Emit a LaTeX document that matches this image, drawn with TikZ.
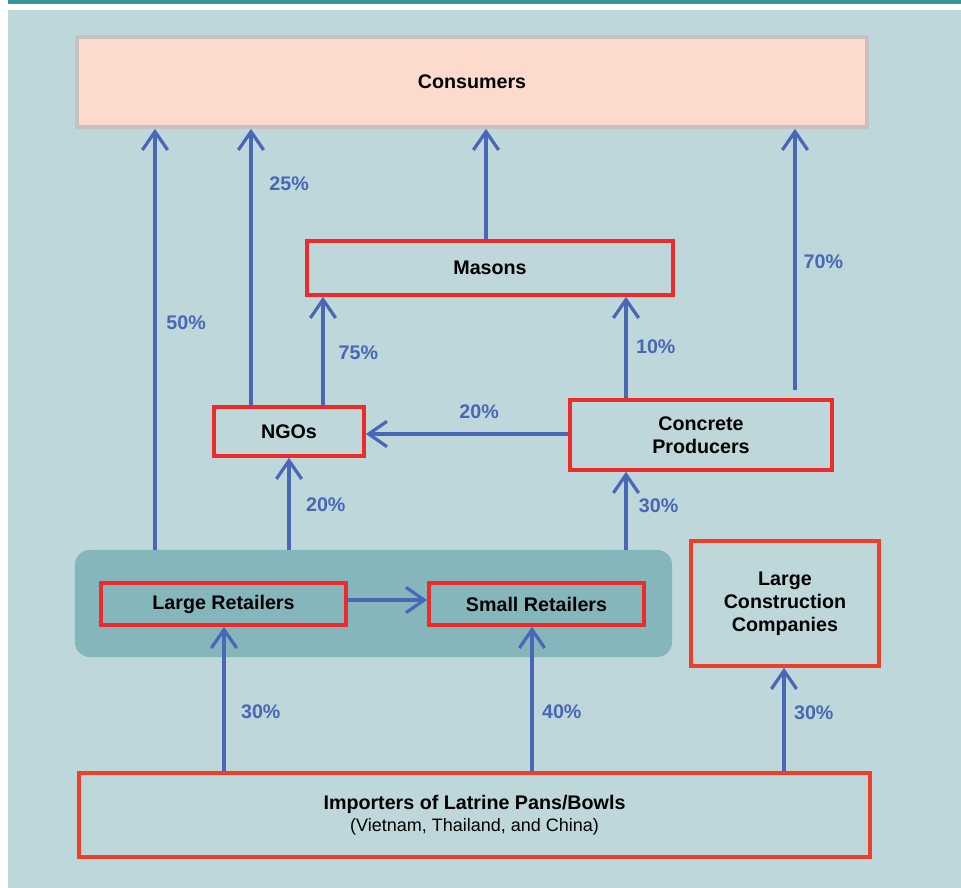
\documentclass[tikz,border=0pt]{standalone}
\usepackage{fontspec}
\setmainfont{Liberation Sans}
\usetikzlibrary{arrows.meta,positioning,calc,backgrounds}
\definecolor{panel}{HTML}{BDD7DA}
\definecolor{topbar}{HTML}{3A9599}
\definecolor{retail}{HTML}{84B6BC}
\definecolor{peach}{HTML}{FDDBCC}
\definecolor{peachline}{HTML}{C9C1C1}
\definecolor{boxred}{HTML}{EE2A2A}
\definecolor{boxorange}{HTML}{EE4028}
\definecolor{flowblue}{HTML}{4A67B5}
\tikzset{
  actor/.style={
    rectangle, draw=#1, line width=2.6pt,
    font=\fontsize{14}{16.5}\selectfont\bfseries, align=center,
    inner sep=2pt
  },
  actor/.default=boxred,
  flow/.style={
    -{Straight Barb[length=13pt,width=18pt,line width=2.3pt]},
    line width=2.3pt, color=flowblue
  },
  pct/.style={
    font=\fontsize{14}{16}\selectfont\bfseries, text=flowblue,
    inner sep=0pt, anchor=west
  },
}

\begin{document}
\begin{tikzpicture}[x=0.025cm, y=-0.025cm]
  \useasboundingbox (0,0) rectangle (961,888);
  \fill[white] (0,0) rectangle (961,888);
  \fill[topbar] (8,0) rectangle (961,4);
  \fill[panel] (8,10) rectangle (961,888);

  % retailers group
  \node[rectangle, rounded corners=0.375cm, fill=retail, minimum width=14.925cm,
        minimum height=2.675cm] (group) at (373.5,603.5) {};

  \node[actor=peachline, fill=peach, minimum width=19.75cm, minimum height=2.25cm] (consumers) at (472,82) {Consumers};
  \node[actor, minimum width=9.15cm, minimum height=1.35cm] (masons) at (490,268) {Masons};
  \node[actor, minimum width=3.75cm, minimum height=1.225cm] (ngos) at (289,431.5) {NGOs};
  \node[actor, minimum width=6.55cm, minimum height=1.75cm] (concrete) at (701,435) {Concrete\\Producers};
  \node[actor, minimum width=6.125cm, minimum height=1.05cm] (large) at (223.5,604) {Large Retailers};
  \node[actor, minimum width=5.375cm, minimum height=1.05cm] (small) at (536.5,604) {Small Retailers};
  \node[actor=boxorange, minimum width=4.7cm, minimum height=3.125cm] (construction) at (785,603.5) {Large\\Construction\\Companies};
  \node[actor=boxorange, minimum width=19.775cm, minimum height=2.1cm] (importers) at (474.5,815)
    {Importers of Latrine Pans/Bowls\\[-1pt]{\mdseries\fontsize{12.8}{15}\selectfont(Vietnam, Thailand, and China)}};
  \coordinate (top70) at ($(concrete.north -| 795,0)+(0,-8)$);

  % flows into consumers
  \draw[flow] (group.north -| 155,0) -- node[pct, right=7pt, pos=0.54] {50\%} (consumers.south -| 155,0);
  \draw[flow] (ngos.north -| 251,0) -- node[pct, right=12pt, pos=0.8] {25\%} (consumers.south -| 251,0);
  \draw[flow] (masons.north -| 486,0) -- (consumers.south -| 486,0);
  \draw[flow] (top70) -- node[pct, right=5pt, pos=0.49] {70\%} (consumers.south -| top70);

  % flows into masons and ngos
  \draw[flow] (ngos.north -| 323,0) -- node[pct, right=10pt, pos=0.48] {75\%} (masons.south -| 323,0);
  \draw[flow] (concrete.north -| 626,0) -- node[pct, right=6pt, pos=0.51] {10\%} (masons.south -| 626,0);
  \draw[flow] (concrete.west |- 0,434) -- node[pct, anchor=south, above=10pt, pos=0.44] {20\%} (ngos.east |- 0,434);

  % flows out of retailers
  \draw[flow] (group.north -| 289,0) -- node[pct, right=11pt, pos=0.49] {20\%} (ngos.south -| 289,0);
  \draw[flow] (group.north -| 626,0) -- node[pct, right=8pt, pos=0.57] {30\%} (concrete.south -| 626,0);
  \draw[flow] (large.east |- 0,600) -- (small.west |- 0,600);

  % flows out of importers
  \draw[flow] (importers.north -| 224,0) -- node[pct, right=11pt, pos=0.41] {30\%} (large.south -| 224,0);
  \draw[flow] (importers.north -| 532,0) -- node[pct, right=6pt, pos=0.41] {40\%} (small.south -| 532,0);
  \draw[flow] (importers.north -| 784,0) -- node[pct, right=6pt, pos=0.57] {30\%} (construction.south -| 784,0);
\end{tikzpicture}
\end{document}
